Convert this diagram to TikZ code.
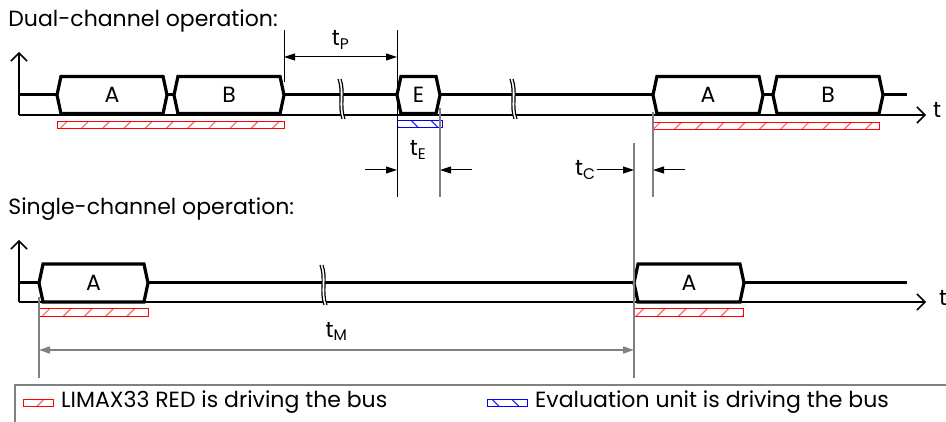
\documentclass[tikz,border=0pt]{standalone}
\usepackage{fontspec}
\setmainfont{Poppins}
\usetikzlibrary{positioning,shapes.symbols,arrows.meta,patterns.meta}
\tikzset{every picture/.style={line width=0.75pt}}
\tikzset{
  frame/.style={draw, shape=signal, signal to=west and east, signal pointer angle=156,
    line width=3.2pt, minimum height=37pt, inner sep=0pt, outer sep=0pt},
  bus/.style={line width=3pt},
  axis/.style={line width=2pt, -{Straight Barb[length=8pt,width=16pt,line width=1.5pt]}},
  redbar/.style={draw=red, line width=1pt, pattern={Lines[angle=45,distance=15pt,line width=1.2pt]}, pattern color=red!60},
  bluebar/.style={draw=blue, line width=1pt, pattern={Lines[angle=-45,distance=14pt,line width=1.2pt]}, pattern color=blue!80},
  dim/.style={line width=1pt},
  gdim/.style={line width=1.5pt, draw=gray},
  brk/.pic={
    \fill[white] (-2,-20) .. controls (3,-6) and (-3,6) .. (2,20) -- (5,20) .. controls (0,6) and (6,-6) .. (1,-20) -- cycle;
    \draw[line width=1.2pt] (-2,-20) .. controls (3,-6) and (-3,6) .. (2,20);
    \draw[line width=1.2pt] (1,-20) .. controls (6,-6) and (0,6) .. (5,20);
  }
}

\begin{document}
\begin{tikzpicture}[x=1pt, y=-1pt, >={Triangle[length=11pt,width=7pt]},
    every node/.style={font=\fontsize{22}{26}\selectfont}]
    \useasboundingbox (0,0) rectangle (946,422);
    % dual-channel
    \node[anchor=base west, inner sep=0pt] (dual) at (8,27) {Dual-channel operation:};
    \node[frame, minimum width=110pt] (a1) at (112,95) {A};
    \node[frame, minimum width=110pt] (b1) at (229,95) {B};
    \node[frame, minimum width=43pt] (e1) at (418.5,95) {E};
    \node[frame, minimum width=110pt] (a2) at (708,95) {A};
    \node[frame, minimum width=110pt] (b2) at (828,95) {B};
    \coordinate (o1) at (19,115);
    \coordinate (s1) at (19,95);
    \coordinate (f1) at (907,95);
    \draw[axis] (o1) -- (19,52);
    \draw[axis] (o1) -- (926,115);
    \node (t1) at (937,110) {t};
    \draw[bus] (s1) -- (a1.west) (a1.east) -- (b1.west) (b1.east) -- (e1.west)
        (e1.east) -- (a2.west) (a2.east) -- (b2.west) (b2.east) -- (f1);
    \pic at (340,99) {brk};
    \pic at (512,99) {brk};
    \draw[redbar] (a1.west |- 0,122) rectangle (b1.east |- 0,129);
    \draw[redbar] (a2.west |- 0,123) rectangle (879,130);
    \draw[bluebar] (e1.west |- 0,121) rectangle (442,128);
    % t_P
    \draw[dim] (b1.east |- 0,30) -- (b1.east |- 0,82);
    \draw[dim] (e1.west |- 0,30) -- (e1.west |- 0,197);
    \draw[dim, <->] (b1.east |- 0,57) -- node[above=4pt] (tp) {t\textsubscript{P}} (e1.west |- 0,57);
    % t_E
    \draw[gdim] (e1.east |- 0,108) -- (e1.east |- 0,197);
    \coordinate (te1) at (365,170);
    \coordinate (te2) at (472,170);
    \draw[dim, ->] (te1) -- (e1.west |- te1);
    \draw[dim, ->] (te2) -- (e1.east |- te2);
    \node (te) at (418,150) {t\textsubscript{E}};
    % single-channel
    \node[anchor=base west, inner sep=0pt] (single) at (8,215) {Single-channel operation:};
    \node[frame, minimum width=109pt, minimum height=38pt] (a3) at (93.5,283) {A};
    \node[frame, minimum width=110pt, minimum height=38pt] (a4) at (689,283) {A};
    \coordinate (o2) at (19,302);
    \coordinate (s2) at (19,283);
    \coordinate (f2) at (907,283);
    \draw[axis] (o2) -- (19,240);
    \draw[axis] (o2) -- (926,302);
    \node (t2) at (943,298) {t};
    \draw[bus] (s2) -- (a3.west) (a3.east) -- (a4.west) (a4.east) -- (f2);
    \pic at (322,285) {brk};
    \draw[redbar] (a3.west |- 0,309) rectangle (a3.east |- 0,317);
    \draw[redbar] (a4.west |- 0,309) rectangle (743,317);
    % t_C
    \draw[gdim] (a4.west |- 0,143) -- (a4.west |- 0,378);
    \draw[gdim] (a2.west |- 0,112) -- (a2.west |- 0,197);
    \node[left, inner sep=1pt] (tc) at (597,170) {t\textsubscript{C}};
    \coordinate (tc2) at (685,170);
    \draw[dim, ->] (tc) -- (a4.west |- tc);
    \draw[dim, ->] (tc2) -- (a2.west |- tc2);
    % t_M
    \draw[gdim] (a3.west |- 0,297) -- (a3.west |- 0,378);
    \draw[gdim, <->] (a3.west |- 0,350) -- node[above=5pt] (tm) {t\textsubscript{M}} (a4.west |- 0,350);
    % legend
    \node[draw=gray, line width=1.5pt, anchor=north west, minimum width=940pt, minimum height=60pt] (legend) at (14,384) {};
    \node[redbar, minimum width=30pt, minimum height=7pt, inner sep=0pt] (keyred) at (38,402.5) {};
    \node[right=4pt of keyred] (txtred) {LIMAX33 RED is driving the bus};
    \node[bluebar, minimum width=40pt, minimum height=7pt, inner sep=0pt] (keyblue) at (507,402.5) {};
    \node[right=4pt of keyblue] (txtblue) {Evaluation unit is driving the bus};
\end{tikzpicture}
\end{document}
